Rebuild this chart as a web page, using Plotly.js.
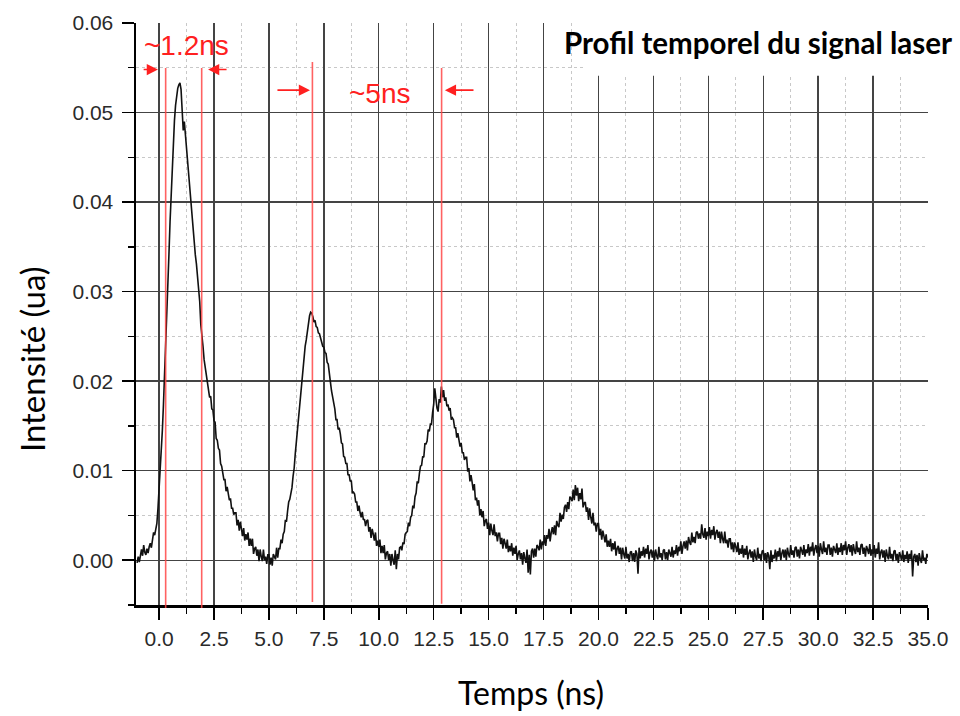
<!DOCTYPE html>
<html>
<head>
<meta charset="utf-8">
<script src="https://cdn.plot.ly/plotly-3.0.1.min.js"></script>
<style>
  html, body { margin: 0; padding: 0; background: #fff; }
  #chart { width: 960px; height: 716px; }
</style>
</head>
<body>
<div id="chart"></div>
<script>
// ---- Data ----
// Sampling grid of the oscilloscope trace (ns)
const TIME_START_NS = -1.0;
const TIME_STEP_NS = 0.05;

// Intensity (ua) in units of 1e-4, one row per half nanosecond
const intensity_e4 = [
  -3, 4, -2, 8, 12, 5, 17, 9, 6, 13,                   // -1.0
  8, 15, 19, 14, 26, 31, 28, 36, 41, 58,               // -0.5
  78, 96, 118, 145, 174, 204, 236, 270, 306, 342,      //  0.0
  378, 412, 444, 470, 491, 508, 519, 527, 531, 533,    //  0.5
  526, 498, 480, 490, 474, 462, 451, 435, 419, 397,    //  1.0
  383, 367, 356, 341, 331, 317, 306, 289, 263, 245,    //  1.5
  239, 224, 216, 203, 198, 192, 182, 183, 169, 168,    //  2.0
  156, 154, 136, 134, 125, 123, 108, 105, 99, 90,      //  2.5
  90, 77, 82, 72, 67, 69, 58, 58, 51, 53,              //  3.0
  53, 39, 45, 33, 43, 35, 27, 36, 22, 29,              //  3.5
  23, 31, 16, 24, 16, 24, 7, 13, 15, 5,                //  4.0
  12, -1, 12, 4, -1, 12, 0, 4, -4, 6,                  //  4.5
  6, -5, 3, -6, 7, 4, 1, 14, 3, 13,                    //  5.0
  13, 23, 19, 29, 32, 45, 43, 55, 65, 68,              //  5.5
  73, 81, 94, 103, 119, 132, 150, 162, 179, 191,       //  6.0
  205, 216, 227, 239, 246, 257, 265, 273, 277, 276,    //  6.5
  272, 266, 268, 261, 260, 254, 253, 248, 245, 239,    //  7.0
  238, 232, 231, 221, 219, 205, 199, 189, 183, 173,    //  7.5
  169, 157, 157, 146, 148, 141, 131, 130, 116, 115,    //  8.0
  108, 108, 95, 96, 88, 89, 75, 76, 74, 65,            //  8.5
  65, 55, 61, 53, 48, 54, 45, 46, 38, 44,              //  9.0
  45, 32, 37, 25, 35, 29, 22, 31, 16, 22,              //  9.5
  15, 23, 8, 16, 8, 17, 1, 8, 10, 0,                   // 10.0
  7, -6, 7, 0, -5, 11, -10, 7, 1, 14,                  // 10.5
  15, 11, 20, 18, 29, 31, 32, 42, 38, 48,              // 11.0
  50, 61, 58, 71, 75, 88, 86, 97, 105, 106,            // 11.5
  116, 115, 130, 130, 133, 146, 144, 152, 152, 165,    // 12.0
  174, 192, 178, 170, 166, 180, 176, 194, 182, 190,    // 12.5
  178, 182, 172, 174, 167, 170, 157, 159, 157, 148,    // 13.0
  148, 137, 142, 133, 127, 131, 120, 120, 112, 115,    // 13.5
  115, 99, 103, 88, 95, 87, 78, 85, 67, 70,            // 14.0
  61, 67, 50, 57, 48, 55, 38, 44, 46, 35,              // 14.5
  42, 28, 41, 33, 28, 40, 27, 31, 21, 30,              // 15.0
  30, 18, 25, 13, 24, 19, 13, 23, 9, 16,               // 15.5
  10, 19, 5, 14, 7, 16, 0, 7, 11, 1,                   // 16.0
  8, -5, 9, 2, -3, 12, -14, 6, -16, 10,                // 16.5
  13, 3, 13, 4, 17, 15, 11, 23, 12, 21,                // 17.0
  17, 28, 16, 28, 24, 35, 21, 31, 37, 29,              // 17.5
  39, 28, 44, 39, 37, 53, 43, 51, 46, 59,              // 18.0
  62, 54, 65, 57, 71, 69, 66, 79, 67, 84,              // 18.5
  72, 81, 66, 75, 68, 80, 59, 64, 65, 54,              // 19.0
  59, 45, 58, 48, 41, 53, 39, 42, 32, 41,              // 19.5
  41, 28, 35, 23, 33, 27, 20, 29, 15, 22,              // 20.0
  15, 24, 10, 19, 12, 21, 5, 13, 16, 7,                // 20.5
  14, 1, 14, 7, 2, 15, 2, 7, -2, 9,                    // 21.0
  10, -1, 8, -2, 11, 7, -15, 14, 2, 10,                // 21.5
  5, 15, 3, 13, 7, 17, 1, 9, 12, 3,                    // 22.0
  11, -1, 12, 5, 1, 15, 3, 8, 0, 11,                   // 22.5
  12, 1, 9, 0, 12, 8, 4, 15, 3, 11,                    // 23.0
  7, 17, 5, 15, 10, 21, 7, 16, 21, 13,                 // 23.5
  22, 11, 26, 20, 17, 31, 20, 26, 19, 31,              // 24.0
  32, 24, 30, 24, 40, 29, 25, 36, 23, 32,              // 24.5
  27, 37, 24, 34, 28, 38, 23, 31, 34, 25,              // 25.0
  32, 19, 32, 24, 19, 32, 19, 23, 14, 24,              // 25.5
  24, 12, 20, 9, 20, 15, 9, 20, 6, 13,                 // 26.0
  7, 17, 3, 13, 6, 16, 1, 8, 12, 3,                    // 26.5
  10, -2, 12, 4, 0, 14, 2, 7, -1, 10,                  // 27.0
  11, 0, 8, -3, 9, 5, -10, 11, -2, 6,                  // 27.5
  2, 12, -1, 10, 4, 14, 0, 8, 12, 3,                   // 28.0
  12, 0, 14, 7, 3, 17, 6, 11, 3, 14,                   // 28.5
  15, 4, 12, 2, 15, 11, 6, 17, 4, 12,                  // 29.0
  8, 18, 5, 15, 10, 20, 5, 13, 17, 8,                  // 29.5
  16, 4, 19, 12, 7, 21, 9, 14, 6, 17,                  // 30.0
  17, 6, 14, 4, 16, 12, 8, 19, 6, 14,                  // 30.5
  9, 19, 6, 17, 11, 21, 6, 14, 18, 9,                  // 31.0
  17, 5, 18, 11, 7, 21, 9, 14, 6, 17,                  // 31.5
  18, 7, 14, 4, 16, 12, 7, 18, 5, 12,                  // 32.0
  7, 17, 3, 13, 7, 20, 1, 9, 12, 3,                    // 32.5
  11, -2, 12, 5, 1, 15, 2, 7, -1, 10,                  // 33.0
  11, 0, 7, -3, 9, 5, 0, 11, -2, 6,                    // 33.5
  1, 10, -3, 7, 1, 11, -18, 4, 7, -2,                  // 34.0
  6, -6, 8, 1, -3, 11, 0, 3, -4, 7,                    // 34.5
  3                                                    // 35.0
];

// Annotation marks (red)
const redLineX   = [0.30, 1.94, 6.98, 12.86];       // ns
const redLineTop = [0.9227, 0.9227, 0.933, 0.9227]; // fraction of plot height
const redLineBot = [-0.005, -0.005, 0.005, 0.002];

const widthLabels = ["~1.2ns", "~5ns"];
const widthLabelX = [1.23, 10.05];
const widthLabelY = [0.05745, 0.0521];

// arrows: tail x, head x, y
const arrowTail = [-0.77, 3.14, 5.32, 14.38];
const arrowHead = [-0.05, 2.23, 6.87, 13.01];
const arrowY    = [0.0548, 0.0548, 0.0525, 0.0525];

const xTickVals = [0, 2.5, 5, 7.5, 10, 12.5, 15, 17.5, 20, 22.5, 25, 27.5, 30, 32.5, 35];
const yTickVals = [0, 0.01, 0.02, 0.03, 0.04, 0.05, 0.06];

// ---- Build trace ----
const time_ns = intensity_e4.map((_, i) => +(TIME_START_NS + i * TIME_STEP_NS).toFixed(3));
const intensity = intensity_e4.map(v => v * 1e-4);

const trace = {
  x: time_ns,
  y: intensity,
  type: 'scatter',
  mode: 'lines',
  line: { color: '#111', width: 1.6 },
  hoverinfo: 'x+y'
};

const shapes = [];
// white box behind the title (grid interrupted there)
shapes.push({
  type: 'rect', xref: 'x', yref: 'y',
  x0: 19.4, x1: 35.5, y0: 0.0541, y1: 0.0605,
  fillcolor: '#fff', line: { width: 0 }, layer: 'between'
});
redLineX.forEach((x, i) => {
  shapes.push({
    type: 'line', xref: 'x', yref: 'paper',
    x0: x, x1: x, y0: redLineBot[i], y1: redLineTop[i],
    line: { color: 'rgba(255,70,70,0.85)', width: 1.6 }
  });
});

const annotations = [];
widthLabels.forEach((t, i) => {
  annotations.push({
    text: t, x: widthLabelX[i], y: widthLabelY[i], xref: 'x', yref: 'y',
    showarrow: false, xanchor: 'center', yanchor: 'middle',
    font: { family: 'Liberation Sans, Arial, sans-serif', size: 28, color: '#ff2020' }
  });
});
arrowTail.forEach((tx, i) => {
  annotations.push({
    text: '', x: arrowHead[i], y: arrowY[i], xref: 'x', yref: 'y',
    ax: tx, ay: arrowY[i], axref: 'x', ayref: 'y',
    showarrow: true, arrowhead: 2, arrowsize: 1.4, arrowwidth: 1.6,
    arrowcolor: '#ff2020', standoff: 0, startstandoff: 0
  });
});
// chart title
annotations.push({
  text: '<b>Profil temporel du signal laser</b>',
  xref: 'paper', yref: 'paper', x: 0.5379, y: 0.967,
  xanchor: 'left', yanchor: 'middle', showarrow: false,
  font: { family: 'Lato, "Open Sans", sans-serif', size: 29.5, color: '#000' }
});
// axis titles
annotations.push({
  text: 'Temps (ns)', xref: 'paper', yref: 'paper',
  x: 0.4987, y: -0.151, xanchor: 'center', yanchor: 'middle', showarrow: false,
  font: { family: 'Lato, "Open Sans", sans-serif', size: 32, color: '#000' }
});
annotations.push({
  text: 'Intensité (ua)', xref: 'paper', yref: 'paper',
  x: -0.131, y: 0.423, xanchor: 'center', yanchor: 'middle', showarrow: false,
  textangle: -90,
  font: { family: 'Lato, "Open Sans", sans-serif', size: 33, color: '#000' }
});

const tickFont = { family: 'Liberation Sans, Arial, sans-serif', size: 21, color: '#2a2a2a' };

const layout = {
  width: 960, height: 716,
  margin: { l: 136, r: 32, t: 23, b: 111, pad: 0 },
  paper_bgcolor: '#fff', plot_bgcolor: '#fff',
  showlegend: false,
  xaxis: {
    range: [-1.05, 35],
    tickvals: xTickVals, tickformat: '.1f',
    ticks: 'outside', ticklen: 12, tickwidth: 1.6, tickcolor: '#000',
    showline: true, linecolor: '#000', linewidth: 2.5,
    showgrid: true, gridcolor: '#444', gridwidth: 1.4,
    zeroline: false, tickfont: tickFont, ticklabelstandoff: 1,
    minor: { dtick: 1.25, tick0: 0, ticks: 'outside', ticklen: 6, tickwidth: 1.4, tickcolor: '#000',
             showgrid: true, gridcolor: '#c8c8c8', gridwidth: 1, griddash: '3px,3px' }
  },
  yaxis: {
    range: [-0.005, 0.06],
    tickvals: yTickVals, tickformat: '.2f',
    ticks: 'outside', ticklen: 12, tickwidth: 1.6, tickcolor: '#000',
    showline: true, linecolor: '#000', linewidth: 2.5,
    showgrid: true, gridcolor: '#444', gridwidth: 1.4,
    zeroline: false, tickfont: tickFont, ticklabelstandoff: 4,
    minor: { dtick: 0.005, tick0: 0, ticks: 'outside', ticklen: 6, tickwidth: 1.4, tickcolor: '#000',
             showgrid: true, gridcolor: '#c8c8c8', gridwidth: 1, griddash: '3px,3px' }
  },
  shapes: shapes,
  annotations: annotations
};

Plotly.newPlot('chart', [trace], layout, { displayModeBar: false, staticPlot: true });
</script>
</body>
</html>
